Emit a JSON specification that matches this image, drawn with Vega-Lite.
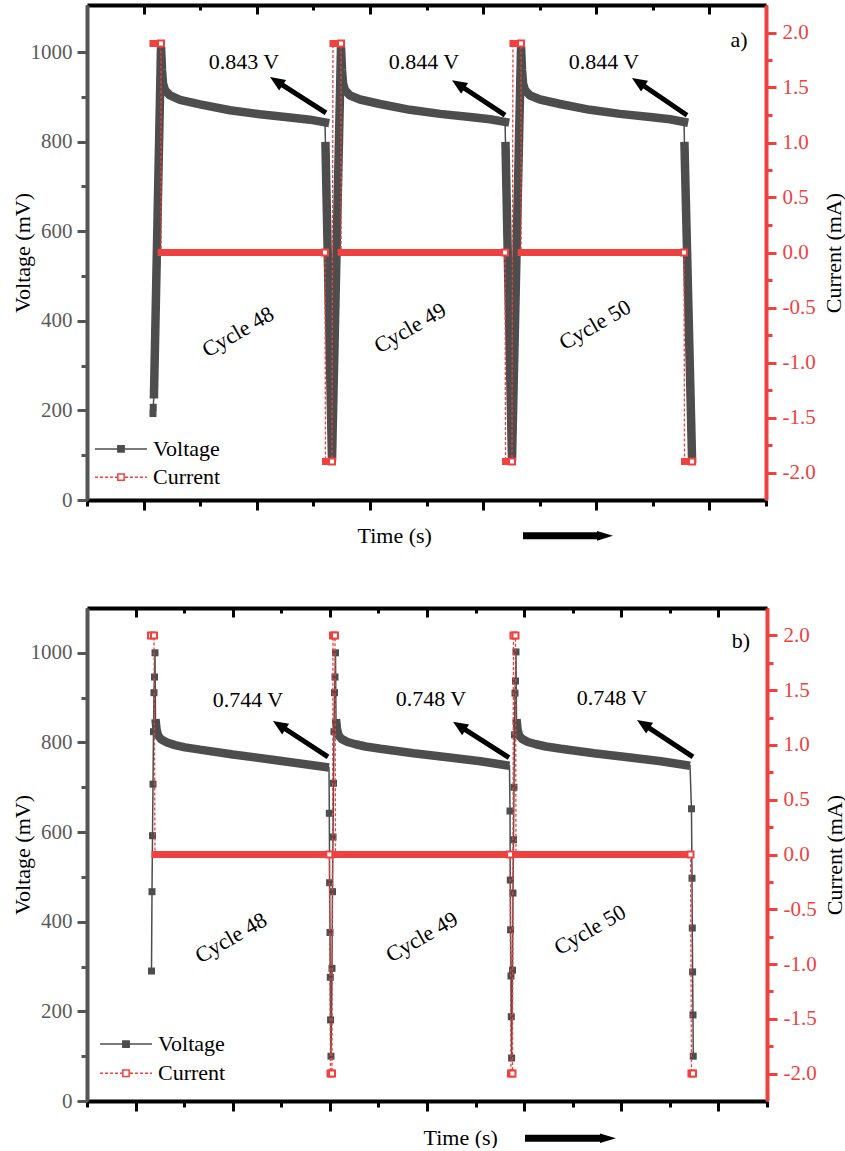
{
"$schema": "https://vega.github.io/schema/vega-lite/v6.json",
"padding": {"left": 11, "top": 3, "right": 0, "bottom": 0},
"spacing": 60,
"config": {"font": "Liberation Serif", "view": {"stroke": null}, "axis": {"grid": false, "labelFont": "Liberation Serif", "titleFont": "Liberation Serif", "titleFontWeight": "normal", "labelOverlap": false}, "text": {"font": "Liberation Serif"}},
"datasets": {
"va": [
{"t":1166,"v":193,"s":"p"},{"t":1170,"v":207,"s":"p"},
{"t":1184,"v":236,"s":"a1"},{"t":1308,"v":1012,"s":"a1"},{"t":1326,"v":960,"s":"a1"},{"t":1343,"v":930,"s":"a1"},{"t":1379,"v":915,"s":"a1"},{"t":1467,"v":903,"s":"a1"},{"t":1644,"v":893,"s":"a1"},{"t":1997,"v":883,"s":"a1"},{"t":2527,"v":870,"s":"a1"},{"t":3058,"v":861,"s":"a1"},{"t":3588,"v":854,"s":"a1"},{"t":3941,"v":849,"s":"a1"},{"t":4206,"v":843,"s":"a1"},
{"t":4215,"v":790,"s":"a2"},{"t":4330,"v":88,"s":"a2"},{"t":4489,"v":1012,"s":"a2"},{"t":4507,"v":960,"s":"a2"},{"t":4525,"v":930,"s":"a2"},{"t":4560,"v":915,"s":"a2"},{"t":4648,"v":903,"s":"a2"},{"t":4825,"v":894,"s":"a2"},{"t":5178,"v":884,"s":"a2"},{"t":5709,"v":871,"s":"a2"},{"t":6239,"v":862,"s":"a2"},{"t":6769,"v":855,"s":"a2"},{"t":7123,"v":850,"s":"a2"},{"t":7388,"v":844,"s":"a2"},
{"t":7397,"v":790,"s":"a3"},{"t":7511,"v":88,"s":"a3"},{"t":7671,"v":1012,"s":"a3"},{"t":7688,"v":960,"s":"a3"},{"t":7706,"v":930,"s":"a3"},{"t":7741,"v":915,"s":"a3"},{"t":7830,"v":903,"s":"a3"},{"t":8006,"v":894,"s":"a3"},{"t":8360,"v":884,"s":"a3"},{"t":8890,"v":871,"s":"a3"},{"t":9420,"v":862,"s":"a3"},{"t":9950,"v":855,"s":"a3"},{"t":10304,"v":850,"s":"a3"},{"t":10551,"v":844,"s":"a3"},
{"t":10560,"v":790,"s":"a4"},{"t":10693,"v":92,"s":"a4"}
],
"ca": [
{"t":1166,"c":1.9,"s":"b1","m":0},{"t":1308,"c":1.9,"s":"b1","m":1},
{"t":1309,"c":0,"s":"b2","m":0},{"t":4206,"c":0,"s":"b2","m":1},
{"t":4215,"c":-1.9,"s":"b3","m":0},{"t":4330,"c":-1.9,"s":"b3","m":1},
{"t":4347,"c":1.9,"s":"b4","m":0},{"t":4489,"c":1.9,"s":"b4","m":1},
{"t":4490,"c":0,"s":"b5","m":0},{"t":7388,"c":0,"s":"b5","m":1},
{"t":7397,"c":-1.9,"s":"b6","m":0},{"t":7511,"c":-1.9,"s":"b6","m":1},
{"t":7528,"c":1.9,"s":"b7","m":0},{"t":7671,"c":1.9,"s":"b7","m":1},
{"t":7672,"c":0,"s":"b8","m":0},{"t":10551,"c":0,"s":"b8","m":1},
{"t":10560,"c":-1.9,"s":"b9","m":0},{"t":10693,"c":-1.9,"s":"b9","m":1}
],
"annA": [
{"k":"label","t":2775,"v":978,"txt":"0.843 V","a":0},
{"k":"label","t":5956,"v":978,"txt":"0.844 V","a":0},
{"k":"label","t":9137,"v":978,"txt":"0.844 V","a":0},
{"k":"label","t":2669,"v":375,"txt":"Cycle 48","a":-30},
{"k":"label","t":5709,"v":384,"txt":"Cycle 49","a":-30},
{"k":"label","t":8978,"v":391,"txt":"Cycle 50","a":-30},
{"k":"label","t":11523,"v":1027,"txt":"a)","a":0},
{"k":"arrow","t":4224,"v":864,"t2":3346,"v2":935},
{"k":"arrow","t":7388,"v":859,"t2":6562,"v2":928},
{"k":"arrow","t":10604,"v":859,"t2":9742,"v2":933},
{"k":"head","t":3346,"v":935},
{"k":"head","t":6562,"v":928},
{"k":"head","t":9742,"v":933},
{"k":"tarrow","t":7706,"v":-80,"t2":9067,"v2":-80},
{"k":"thead","t":9155,"v":-80},
{"k":"leg","t":141,"v":114,"t2":1060,"v2":114,"s":"Voltage"},
{"k":"leg","t":141,"v":51,"t2":1060,"v2":51,"s":"Current"},
{"k":"legpt","t":601,"v":114,"s":"Voltage"},
{"k":"legpt","t":601,"v":51,"s":"Current"},
{"k":"legtxt","t":1166,"v":114,"txt":"Voltage"},
{"k":"legtxt","t":1166,"v":51,"txt":"Current"}
],
"vb": [
{"t":1328,"v":290,"s":"p"},{"t":1338,"v":467,"s":"p"},{"t":1349,"v":592,"s":"p"},{"t":1359,"v":707,"s":"p"},{"t":1369,"v":824,"s":"p"},{"t":1379,"v":911,"s":"p"},{"t":1390,"v":946,"s":"p"},{"t":1400,"v":1000,"s":"p"},
{"t":1410,"v":852,"s":"r1"},{"t":1431,"v":830,"s":"r1"},{"t":1462,"v":816,"s":"r1"},{"t":1524,"v":807,"s":"r1"},{"t":1647,"v":800,"s":"r1"},{"t":1812,"v":794,"s":"r1"},{"t":2018,"v":789,"s":"r1"},{"t":2326,"v":784,"s":"r1"},{"t":3006,"v":773,"s":"r1"},{"t":3706,"v":763,"s":"r1"},{"t":4385,"v":753,"s":"r1"},{"t":4982,"v":744,"s":"r1"},
{"t":4989,"v":642,"s":"p"},{"t":4995,"v":487,"s":"p"},{"t":5003,"v":376,"s":"p"},{"t":5009,"v":276,"s":"p"},{"t":5015,"v":181,"s":"p"},{"t":5023,"v":100,"s":"p"},
{"t":5044,"v":296,"s":"p"},{"t":5054,"v":467,"s":"p"},{"t":5065,"v":589,"s":"p"},{"t":5075,"v":709,"s":"p"},{"t":5085,"v":824,"s":"p"},{"t":5096,"v":911,"s":"p"},{"t":5106,"v":946,"s":"p"},{"t":5116,"v":1000,"s":"p"},
{"t":5126,"v":852,"s":"r2"},{"t":5147,"v":830,"s":"r2"},{"t":5178,"v":816,"s":"r2"},{"t":5240,"v":808,"s":"r2"},{"t":5363,"v":801,"s":"r2"},{"t":5528,"v":796,"s":"r2"},{"t":5734,"v":791,"s":"r2"},{"t":6043,"v":786,"s":"r2"},{"t":6722,"v":776,"s":"r2"},{"t":7422,"v":767,"s":"r2"},{"t":8101,"v":758,"s":"r2"},{"t":8698,"v":748,"s":"r2"},
{"t":8709,"v":647,"s":"p"},{"t":8715,"v":493,"s":"p"},{"t":8721,"v":382,"s":"p"},{"t":8729,"v":279,"s":"p"},{"t":8735,"v":188,"s":"p"},{"t":8742,"v":96,"s":"p"},
{"t":8760,"v":292,"s":"p"},{"t":8770,"v":464,"s":"p"},{"t":8781,"v":583,"s":"p"},{"t":8791,"v":700,"s":"p"},{"t":8801,"v":817,"s":"p"},{"t":8812,"v":910,"s":"p"},{"t":8822,"v":937,"s":"p"},{"t":8832,"v":1002,"s":"p"},
{"t":8843,"v":852,"s":"r3"},{"t":8863,"v":830,"s":"r3"},{"t":8894,"v":816,"s":"r3"},{"t":8956,"v":808,"s":"r3"},{"t":9079,"v":801,"s":"r3"},{"t":9244,"v":796,"s":"r3"},{"t":9450,"v":791,"s":"r3"},{"t":9759,"v":786,"s":"r3"},{"t":10438,"v":776,"s":"r3"},{"t":11138,"v":767,"s":"r3"},{"t":11818,"v":758,"s":"r3"},{"t":12415,"v":748,"s":"r3"},
{"t":12445,"v":652,"s":"p"},{"t":12456,"v":497,"s":"p"},{"t":12462,"v":386,"s":"p"},{"t":12468,"v":288,"s":"p"},{"t":12476,"v":192,"s":"p"},{"t":12482,"v":100,"s":"p"}
],
"cb": [
{"t":1318,"c":2,"s":"p","m":1},{"t":1379,"c":2,"s":"p","m":1},
{"t":1400,"c":0,"s":"z1","m":0},{"t":4989,"c":0,"s":"z1","m":1},
{"t":5013,"c":-2,"s":"p","m":1},{"t":5044,"c":-2,"s":"p","m":1},
{"t":5065,"c":2,"s":"p","m":1},{"t":5106,"c":2,"s":"p","m":1},
{"t":5116,"c":0,"s":"z2","m":0},{"t":8709,"c":0,"s":"z2","m":1},
{"t":8729,"c":-2,"s":"p","m":1},{"t":8760,"c":-2,"s":"p","m":1},
{"t":8781,"c":2,"s":"p","m":1},{"t":8822,"c":2,"s":"p","m":1},
{"t":8832,"c":0,"s":"z3","m":0},{"t":12425,"c":0,"s":"z3","m":1},
{"t":12445,"c":-2,"s":"p","m":1},{"t":12476,"c":-2,"s":"p","m":1}
],
"annB": [
{"k":"label","t":3315,"v":895,"txt":"0.744 V","a":0},
{"k":"label","t":7082,"v":897,"txt":"0.748 V","a":0},
{"k":"label","t":10809,"v":900,"txt":"0.748 V","a":0},
{"k":"label","t":2965,"v":364,"txt":"Cycle 48","a":-30},
{"k":"label","t":6897,"v":366,"txt":"Cycle 49","a":-30},
{"k":"label","t":10356,"v":382,"txt":"Cycle 50","a":-30},
{"k":"label","t":13465,"v":1027,"txt":"b)","a":0},
{"k":"arrow","t":4962,"v":768,"t2":3959,"v2":839},
{"k":"arrow","t":8688,"v":766,"t2":7665,"v2":837},
{"k":"arrow","t":12476,"v":768,"t2":11453,"v2":841},
{"k":"head","t":3959,"v":839},
{"k":"head","t":7665,"v":837},
{"k":"head","t":11453,"v":841},
{"k":"tarrow","t":9018,"v":-83,"t2":10623,"v2":-83},
{"k":"thead","t":10726,"v":-83},
{"k":"leg","t":268,"v":127,"t2":1338,"v2":127,"s":"Voltage"},
{"k":"leg","t":268,"v":62,"t2":1338,"v2":62,"s":"Current"},
{"k":"legpt","t":803,"v":127,"s":"Voltage"},
{"k":"legpt","t":803,"v":62,"s":"Current"},
{"k":"legtxt","t":1462,"v":127,"txt":"Voltage"},
{"k":"legtxt","t":1462,"v":62,"txt":"Current"}
]
},
"vconcat": [
{
"width": 679, "height": 495,
"resolve": {"scale": {"y": "independent"}, "axis": {"x": "independent", "y": "independent"}},
"layer": [
{
"encoding": {
"x": {"field": "t", "type": "quantitative", "scale": {"domain": [0, 12000], "nice": false, "zero": false},
 "axis": {"orient": "bottom", "values": [0,1000,2000,3000,4000,5000,6000,7000,8000,9000,10000,11000,12000], "labels": false, "domainColor": "black", "domainWidth": 4, "tickColor": "black", "tickWidth": 3, "tickSize": {"condition": {"test": "datum.value % 2000 == 1000", "value": 10}, "value": 6}, "title": "Time (s)", "titleFont": "Liberation Serif", "titleFontWeight": "normal", "titleFontSize": 22, "titleColor": "black", "titleX": 270, "titleY": 35, "titleAlign": "left", "titleBaseline": "middle", "titleAngle": 0}},
"y": {"field": "v", "type": "quantitative", "scale": {"domain": [0, 1105], "nice": false, "zero": false},
 "axis": {"orient": "left", "values": [0,100,200,300,400,500,600,700,800,900,1000], "format": "d", "labelExpr": "datum.value % 200 == 0 ? datum.label : ''", "labelFont": "Liberation Serif", "labelColor": "#5a5a5a", "labelFontSize": 21, "labelPadding": 5, "domainColor": "#555555", "domainWidth": 4, "tickColor": "#555555", "tickWidth": 3, "tickSize": {"condition": {"test": "datum.value % 200 == 0", "value": 10}, "value": 6}, "title": "Voltage (mV)", "titleFont": "Liberation Serif", "titleFontWeight": "normal", "titleFontSize": 22, "titleColor": "black", "titleAngle": -90, "titleX": -65, "titleY": 247.5, "titleAlign": "center", "titleBaseline": "middle"}}
},
"layer": [
{"data": {"name": "va"}, "mark": {"type": "line", "color": "#4d4d4d", "strokeWidth": 1.5}},
{"data": {"name": "va"}, "transform": [{"filter": "datum.s != 'p'"}], "mark": {"type": "line", "color": "#4d4d4d", "strokeWidth": 8.5, "strokeJoin": "bevel", "strokeCap": "square"}, "encoding": {"detail": {"field": "s", "type": "nominal"}}},
{"data": {"name": "va"}, "transform": [{"filter": "datum.s == 'p'"}], "mark": {"type": "point", "shape": "square", "filled": true, "size": 49, "color": "#4d4d4d", "opacity": 1}},
{"data": {"name": "annA"}, "transform": [{"filter": "datum.k == 'arrow'"}], "mark": {"type": "rule", "color": "black", "strokeWidth": 5, "clip": false}, "encoding": {"x2": {"field": "t2"}, "y2": {"field": "v2"}}},
{"data": {"name": "annA"}, "transform": [{"filter": "datum.k == 'head'"}], "mark": {"type": "point", "shape": "M0,-1L0.85,1L-0.85,1Z", "size": 225, "angle": -57, "filled": true, "color": "black", "opacity": 1}},
{"data": {"name": "annA"}, "transform": [{"filter": "datum.k == 'tarrow'"}], "mark": {"type": "rule", "color": "black", "strokeWidth": 7, "clip": false}, "encoding": {"x2": {"field": "t2"}, "y2": {"field": "v2"}}},
{"data": {"name": "annA"}, "transform": [{"filter": "datum.k == 'thead'"}], "mark": {"type": "point", "shape": "M-1,-0.6L1,0L-1,0.6Z", "size": 256, "filled": true, "color": "black", "opacity": 1, "clip": false}},
{"data": {"name": "annA"}, "transform": [{"filter": "datum.k == 'label'"}], "mark": {"type": "text", "fontSize": 22, "font": "Liberation Serif", "color": "black"}, "encoding": {"text": {"field": "txt", "type": "nominal"}, "angle": {"field": "a", "type": "quantitative", "scale": null}}},
{"data": {"name": "annA"}, "transform": [{"filter": "datum.k == 'leg'"}], "mark": {"type": "rule", "strokeWidth": 1.5}, "encoding": {"x2": {"field": "t2"}, "y2": {"field": "v2"}, "stroke": {"field": "s", "type": "nominal", "scale": {"domain": ["Voltage", "Current"], "range": ["#4d4d4d", "#f04141"]}, "legend": null}, "strokeDash": {"field": "s", "type": "nominal", "scale": {"domain": ["Voltage", "Current"], "range": [[1, 0], [3, 2]]}, "legend": null}}},
{"data": {"name": "annA"}, "transform": [{"filter": "datum.k == 'legpt'"}], "mark": {"type": "point", "shape": "square", "size": 40, "strokeWidth": 1.5, "opacity": 1, "filled": true}, "encoding": {"fill": {"field": "s", "type": "nominal", "scale": {"domain": ["Voltage", "Current"], "range": ["#4d4d4d", "white"]}, "legend": null}, "stroke": {"field": "s", "type": "nominal", "scale": {"domain": ["Voltage", "Current"], "range": ["#4d4d4d", "#f04141"]}, "legend": null}}},
{"data": {"name": "annA"}, "transform": [{"filter": "datum.k == 'legtxt'"}], "mark": {"type": "text", "fontSize": 22, "font": "Liberation Serif", "align": "left", "color": "black"}, "encoding": {"text": {"field": "txt", "type": "nominal"}}}
]
},
{
"encoding": {
"x": {"field": "t", "type": "quantitative", "scale": {"domain": [0, 12000], "nice": false, "zero": false},
 "axis": {"orient": "top", "values": [0,1000,2000,3000,4000,5000,6000,7000,8000,9000,10000,11000,12000], "labels": false, "title": null, "domainColor": "black", "domainWidth": 4, "tickColor": "black", "tickWidth": 3, "tickSize": {"condition": {"test": "datum.value % 2000 == 1000", "value": -9}, "value": -5}}},
"y": {"field": "c", "type": "quantitative", "scale": {"domain": [-2.25, 2.25], "nice": false, "zero": false},
 "axis": {"orient": "right", "values": [-2,-1.75,-1.5,-1.25,-1,-0.75,-0.5,-0.25,0,0.25,0.5,0.75,1,1.25,1.5,1.75,2], "labelExpr": "abs(datum.value*2 - round(datum.value*2)) < 0.001 ? replace(format(datum.value, '.1f'), '\u2212', '-') : ''", "labelFont": "Liberation Serif", "labelColor": "#f04141", "labelFontSize": 21, "labelPadding": 6, "domainColor": "#f04141", "domainWidth": 4, "tickColor": "#f04141", "tickWidth": 3, "tickSize": {"condition": {"test": "abs(datum.value*2 - round(datum.value*2)) < 0.001", "value": 10}, "value": 6}, "title": "Current (mA)", "titleFont": "Liberation Serif", "titleFontWeight": "normal", "titleFontSize": 22, "titleColor": "black", "titleAngle": -90, "titleX": 67, "titleY": 247.5, "titleAlign": "center", "titleBaseline": "middle"}}
},
"layer": [
{"data": {"name": "ca"}, "mark": {"type": "line", "color": "#f04141", "strokeWidth": 1.3, "strokeDash": [3, 2]}},
{"data": {"name": "ca"}, "transform": [{"filter": "datum.s != 'p'"}], "mark": {"type": "line", "color": "#f04141", "strokeWidth": 7, "strokeCap": "square"}, "encoding": {"detail": {"field": "s", "type": "nominal"}}},
{"data": {"name": "ca"}, "transform": [{"filter": "datum.m == 1"}], "mark": {"type": "point", "shape": "square", "filled": true, "fill": "white", "stroke": "#f04141", "strokeWidth": 2, "size": 36, "opacity": 1}}
]
}
]
},
{
"width": 680, "height": 493,
"resolve": {"scale": {"y": "independent"}, "axis": {"x": "independent", "y": "independent"}},
"layer": [
{
"encoding": {
"x": {"field": "t", "type": "quantitative", "scale": {"domain": [0, 14000], "nice": false, "zero": false},
 "axis": {"orient": "bottom", "values": [0,1000,2000,3000,4000,5000,6000,7000,8000,9000,10000,11000,12000,13000,14000], "labels": false, "domainColor": "black", "domainWidth": 4, "tickColor": "black", "tickWidth": 3, "tickSize": {"condition": {"test": "datum.value % 2000 == 1000", "value": 10}, "value": 6}, "title": "Time (s)", "titleFont": "Liberation Serif", "titleFontWeight": "normal", "titleFontSize": 22, "titleColor": "black", "titleX": 336, "titleY": 36, "titleAlign": "left", "titleBaseline": "middle", "titleAngle": 0}},
"y": {"field": "v", "type": "quantitative", "scale": {"domain": [0, 1100], "nice": false, "zero": false},
 "axis": {"orient": "left", "values": [0,100,200,300,400,500,600,700,800,900,1000], "format": "d", "labelExpr": "datum.value % 200 == 0 ? datum.label : ''", "labelFont": "Liberation Serif", "labelColor": "#5a5a5a", "labelFontSize": 21, "labelPadding": 5, "domainColor": "#555555", "domainWidth": 4, "tickColor": "#555555", "tickWidth": 3, "tickSize": {"condition": {"test": "datum.value % 200 == 0", "value": 10}, "value": 6}, "title": "Voltage (mV)", "titleFont": "Liberation Serif", "titleFontWeight": "normal", "titleFontSize": 22, "titleColor": "black", "titleAngle": -90, "titleX": -65, "titleY": 246.5, "titleAlign": "center", "titleBaseline": "middle"}}
},
"layer": [
{"data": {"name": "vb"}, "mark": {"type": "line", "color": "#4d4d4d", "strokeWidth": 1.5}},
{"data": {"name": "vb"}, "transform": [{"filter": "datum.s != 'p'"}], "mark": {"type": "line", "color": "#4d4d4d", "strokeWidth": 8.5, "strokeJoin": "bevel", "strokeCap": "butt"}, "encoding": {"detail": {"field": "s", "type": "nominal"}}},
{"data": {"name": "vb"}, "transform": [{"filter": "datum.s == 'p'"}], "mark": {"type": "point", "shape": "square", "filled": true, "size": 49, "color": "#4d4d4d", "opacity": 1}},
{"data": {"name": "annB"}, "transform": [{"filter": "datum.k == 'arrow'"}], "mark": {"type": "rule", "color": "black", "strokeWidth": 5, "clip": false}, "encoding": {"x2": {"field": "t2"}, "y2": {"field": "v2"}}},
{"data": {"name": "annB"}, "transform": [{"filter": "datum.k == 'head'"}], "mark": {"type": "point", "shape": "M0,-1L0.85,1L-0.85,1Z", "size": 225, "angle": -57, "filled": true, "color": "black", "opacity": 1}},
{"data": {"name": "annB"}, "transform": [{"filter": "datum.k == 'tarrow'"}], "mark": {"type": "rule", "color": "black", "strokeWidth": 7, "clip": false}, "encoding": {"x2": {"field": "t2"}, "y2": {"field": "v2"}}},
{"data": {"name": "annB"}, "transform": [{"filter": "datum.k == 'thead'"}], "mark": {"type": "point", "shape": "M-1,-0.6L1,0L-1,0.6Z", "size": 256, "filled": true, "color": "black", "opacity": 1, "clip": false}},
{"data": {"name": "annB"}, "transform": [{"filter": "datum.k == 'label'"}], "mark": {"type": "text", "fontSize": 22, "font": "Liberation Serif", "color": "black"}, "encoding": {"text": {"field": "txt", "type": "nominal"}, "angle": {"field": "a", "type": "quantitative", "scale": null}}},
{"data": {"name": "annB"}, "transform": [{"filter": "datum.k == 'leg'"}], "mark": {"type": "rule", "strokeWidth": 1.5}, "encoding": {"x2": {"field": "t2"}, "y2": {"field": "v2"}, "stroke": {"field": "s", "type": "nominal", "scale": {"domain": ["Voltage", "Current"], "range": ["#4d4d4d", "#f04141"]}, "legend": null}, "strokeDash": {"field": "s", "type": "nominal", "scale": {"domain": ["Voltage", "Current"], "range": [[1, 0], [3, 2]]}, "legend": null}}},
{"data": {"name": "annB"}, "transform": [{"filter": "datum.k == 'legpt'"}], "mark": {"type": "point", "shape": "square", "size": 40, "strokeWidth": 1.5, "opacity": 1, "filled": true}, "encoding": {"fill": {"field": "s", "type": "nominal", "scale": {"domain": ["Voltage", "Current"], "range": ["#4d4d4d", "white"]}, "legend": null}, "stroke": {"field": "s", "type": "nominal", "scale": {"domain": ["Voltage", "Current"], "range": ["#4d4d4d", "#f04141"]}, "legend": null}}},
{"data": {"name": "annB"}, "transform": [{"filter": "datum.k == 'legtxt'"}], "mark": {"type": "text", "fontSize": 22, "font": "Liberation Serif", "align": "left", "color": "black"}, "encoding": {"text": {"field": "txt", "type": "nominal"}}}
]
},
{
"encoding": {
"x": {"field": "t", "type": "quantitative", "scale": {"domain": [0, 14000], "nice": false, "zero": false},
 "axis": {"orient": "top", "values": [0,1000,2000,3000,4000,5000,6000,7000,8000,9000,10000,11000,12000,13000,14000], "labels": false, "title": null, "domainColor": "black", "domainWidth": 4, "tickColor": "black", "tickWidth": 3, "tickSize": {"condition": {"test": "datum.value % 2000 == 1000", "value": -9}, "value": -5}}},
"y": {"field": "c", "type": "quantitative", "scale": {"domain": [-2.25, 2.25], "nice": false, "zero": false},
 "axis": {"orient": "right", "values": [-2,-1.75,-1.5,-1.25,-1,-0.75,-0.5,-0.25,0,0.25,0.5,0.75,1,1.25,1.5,1.75,2], "labelExpr": "abs(datum.value*2 - round(datum.value*2)) < 0.001 ? replace(format(datum.value, '.1f'), '\u2212', '-') : ''", "labelFont": "Liberation Serif", "labelColor": "#f04141", "labelFontSize": 21, "labelPadding": 6, "domainColor": "#f04141", "domainWidth": 4, "tickColor": "#f04141", "tickWidth": 3, "tickSize": {"condition": {"test": "abs(datum.value*2 - round(datum.value*2)) < 0.001", "value": 10}, "value": 6}, "title": "Current (mA)", "titleFont": "Liberation Serif", "titleFontWeight": "normal", "titleFontSize": 22, "titleColor": "black", "titleAngle": -90, "titleX": 67, "titleY": 246.5, "titleAlign": "center", "titleBaseline": "middle"}}
},
"layer": [
{"data": {"name": "cb"}, "mark": {"type": "line", "color": "#f04141", "strokeWidth": 1.3, "strokeDash": [3, 2]}},
{"data": {"name": "cb"}, "transform": [{"filter": "datum.s != 'p'"}], "mark": {"type": "line", "color": "#f04141", "strokeWidth": 7, "strokeCap": "square"}, "encoding": {"detail": {"field": "s", "type": "nominal"}}},
{"data": {"name": "cb"}, "transform": [{"filter": "datum.m == 1"}], "mark": {"type": "point", "shape": "square", "filled": true, "fill": "white", "stroke": "#f04141", "strokeWidth": 2, "size": 36, "opacity": 1}}
]
}
]
}
]
}
